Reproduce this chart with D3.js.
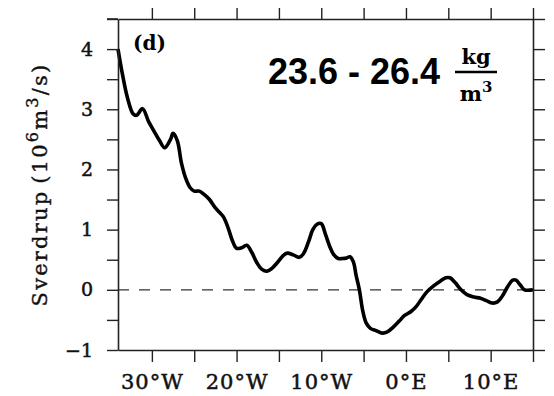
<!DOCTYPE html>
<html>
<head>
<meta charset="utf-8">
<script src="https://cdn.jsdelivr.net/npm/d3@7"></script>
<style>
  body { margin: 0; background: #fff; }
  svg { display: block; }
</style>
</head>
<body>
<script>
const wdth = 554;
const hght = 396;
const margin = { top: 19, right: 21, bottom: 46, left: 118 };

// longitude (negative = west) and Sverdrup transport
const lons = [
  -34.0, -33.5, -32.9, -32.2, -31.8, -31.1, -30.4, -29.8, -29.1, -28.5,
  -27.8, -27.5, -27.0, -26.5, -26.0, -25.5, -25.0, -24.4, -23.8, -23.2,
  -22.5, -21.9, -21.5, -21.0, -20.5, -20.0, -19.4, -18.8, -18.2, -17.6,
  -17.0, -16.4, -15.8, -15.2, -14.5, -14.0, -13.3, -12.6, -12.1, -11.5,
  -11.0, -10.5, -10.0, -9.5, -9.0, -8.5, -8.0, -7.5, -7.0, -6.6,
  -6.2, -5.9, -5.5, -5.1, -4.7, -4.2, -3.5, -2.8, -2.2, -1.5,
  -0.8, -0.2, 0.6, 1.2, 1.8, 2.5, 3.3, 4.0, 4.7, 5.2,
  5.8, 6.5, 7.2, 8.0, 8.8, 9.5, 10.2, 10.8, 11.4, 12.0,
  12.6, 13.0, 13.5, 14.0, 15.0
];
const sverdrup = [
  4.00, 3.60, 3.20, 2.92, 2.90, 3.01, 2.80, 2.65, 2.48, 2.36,
  2.50, 2.60, 2.48, 2.10, 1.85, 1.70, 1.64, 1.64, 1.58, 1.50,
  1.36, 1.27, 1.20, 1.03, 0.82, 0.69, 0.70, 0.74, 0.62, 0.45,
  0.34, 0.31, 0.36, 0.45, 0.57, 0.61, 0.58, 0.54, 0.60, 0.80,
  1.00, 1.09, 1.10, 0.92, 0.72, 0.58, 0.52, 0.52, 0.53, 0.55,
  0.46, 0.25, 0.00, -0.35, -0.55, -0.64, -0.68, -0.72, -0.70, -0.62,
  -0.52, -0.43, -0.36, -0.28, -0.16, -0.03, 0.07, 0.14, 0.20, 0.20,
  0.12, 0.00, -0.08, -0.12, -0.14, -0.18, -0.22, -0.20, -0.10, 0.05,
  0.16, 0.16, 0.08, 0.00, 0.00
];

const xTicks = [-30, -25, -20, -15, -10, -5, 0, 5, 10, 15];
const xTickLabels = { "-30": "30°W", "-20": "20°W", "-10": "10°W", "0": "0°E", "10": "10°E" };
const yTicks = [-1, -0.5, 0, 0.5, 1, 1.5, 2, 2.5, 3, 3.5, 4, 4.5];

const data = lons.map((d, i) => ({ lon: d, v: sverdrup[i] }));

const plotW = wdth - margin.left - margin.right;
const plotH = hght - margin.top - margin.bottom;

const x = d3.scaleLinear().domain([-34, 15]).range([0, plotW]);
const y = d3.scaleLinear().domain([-1, 4.5]).range([plotH, 0]);

const svg = d3.select("body")
  .append("svg")
  .attr("width", wdth)
  .attr("height", hght);

const g = svg.append("g")
  .attr("transform", "translate(" + margin.left + "," + margin.top + ")");

const serif = "'DejaVu Serif', serif";

// zero line
g.append("line")
  .attr("x1", 0)
  .attr("x2", plotW)
  .attr("y1", y(0))
  .attr("y2", y(0))
  .attr("stroke", "#333")
  .attr("stroke-width", 1.2)
  .attr("stroke-dasharray", "11,10");

// curve
g.append("path")
  .datum(data)
  .attr("fill", "none")
  .attr("stroke", "#000")
  .attr("stroke-width", 3.6)
  .attr("stroke-linejoin", "round")
  .attr("d", d3.line()
    .x(d => x(d.lon))
    .y(d => y(d.v))
    .curve(d3.curveCatmullRom.alpha(0.5)));

function styleAxis(sel) {
  sel.select(".domain").attr("stroke", "#222").attr("stroke-width", 1.6);
  sel.selectAll(".tick line").attr("stroke", "#222").attr("stroke-width", 1.4);
  sel.selectAll("text")
    .attr("fill", "#111")
    .attr("stroke", "#111")
    .attr("stroke-width", 0.5)
    .style("font-family", serif);
}

const yFmt = d => Number.isInteger(d) ? d3.format("d")(d) : "";

g.append("g")
  .call(d3.axisLeft(y).tickValues(yTicks).tickSize(11).tickPadding(14).tickSizeOuter(0).tickFormat(yFmt))
  .call(styleAxis)
  .selectAll("text").style("font-size", "19px");

g.append("g")
  .attr("transform", "translate(" + plotW + ",0)")
  .call(d3.axisRight(y).tickValues(yTicks).tickSize(12).tickSizeOuter(0).tickFormat(""))
  .call(styleAxis);

g.append("g")
  .attr("transform", "translate(0," + plotH + ")")
  .call(d3.axisBottom(x).tickValues(xTicks).tickSize(12).tickPadding(12).tickSizeOuter(0)
    .tickFormat(d => xTickLabels[d] || ""))
  .call(styleAxis)
  .selectAll("text")
  .style("font-size", "21px")
  .style("letter-spacing", "1px");

g.append("g")
  .call(d3.axisTop(x).tickValues(xTicks).tickSize(11).tickSizeOuter(0).tickFormat(""))
  .call(styleAxis);

// left tick at the top corner
g.append("line").attr("x1", -11).attr("x2", 0).attr("y1", 0).attr("y2", 0).attr("stroke", "#222").attr("stroke-width", 1.6);

// panel letter
g.append("text")
  .attr("x", 15)
  .attr("y", 31)
  .style("font-family", serif)
  .style("font-weight", "bold")
  .style("font-size", "20px")
  .text("(d)");

// y title
const yt = svg.append("text")
  .attr("transform", "translate(47," + (margin.top + plotH / 2) + ") rotate(-90)")
  .attr("text-anchor", "middle")
  .attr("fill", "#111")
  .attr("stroke", "#111")
  .attr("stroke-width", 0.4)
  .style("font-family", serif)
  .style("font-size", "21px")
  .style("letter-spacing", "2.2px");
yt.append("tspan").text("Sverdrup");
yt.append("tspan").attr("dx", 6).text("(10");
yt.append("tspan").attr("baseline-shift", "super").style("font-size", "16px").text("6");
yt.append("tspan").text("m");
yt.append("tspan").attr("baseline-shift", "super").style("font-size", "16px").text("3");
yt.append("tspan").text("/s)");

// density range label
svg.append("text")
  .attr("x", 268)
  .attr("y", 84)
  .style("font-family", "'Liberation Sans', Arial, sans-serif")
  .style("font-weight", "bold")
  .style("font-size", "36px")
  .text("23.6 - 26.4");

const fracX = 476;
svg.append("text")
  .attr("x", fracX)
  .attr("y", 64)
  .attr("text-anchor", "middle")
  .style("font-family", serif)
  .style("font-weight", "bold")
  .style("font-size", "21px")
  .text("kg");

svg.append("line")
  .attr("x1", fracX - 21)
  .attr("x2", fracX + 21)
  .attr("y1", 72)
  .attr("y2", 72)
  .attr("stroke", "#000")
  .attr("stroke-width", 2.5);

const mt = svg.append("text")
  .attr("x", fracX)
  .attr("y", 101)
  .attr("text-anchor", "middle")
  .style("font-family", serif)
  .style("font-weight", "bold")
  .style("font-size", "21px");
mt.append("tspan").text("m");
mt.append("tspan").attr("baseline-shift", "super").style("font-size", "15px").text("3");
</script>
</body>
</html>
